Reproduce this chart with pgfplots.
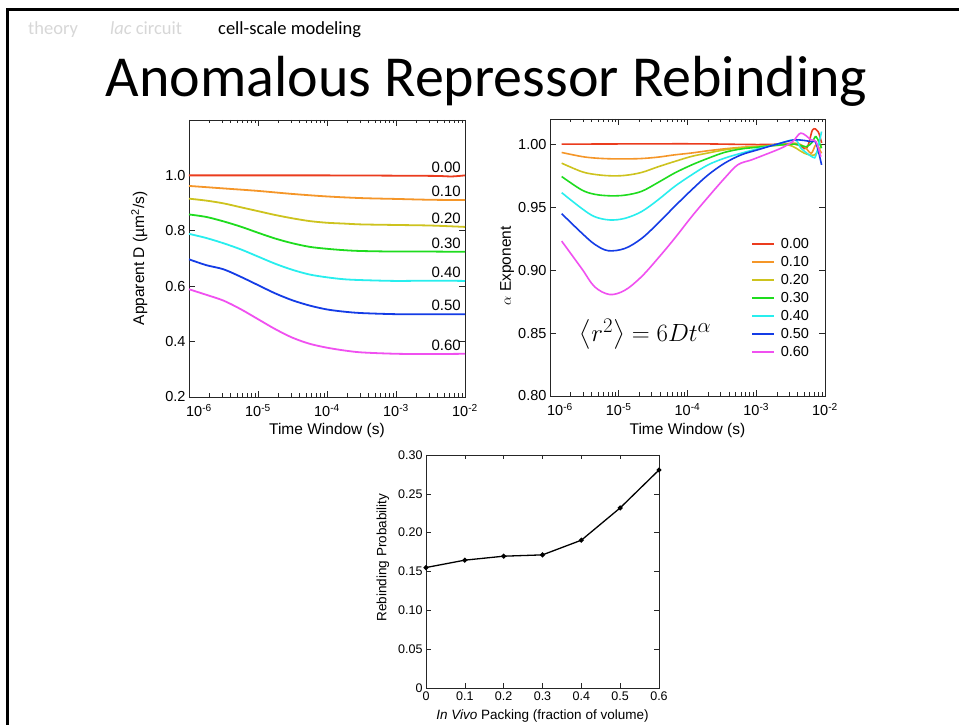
\documentclass[border=0pt]{standalone}
\usepackage{amsmath}
\usepackage{pgfplots}
\pgfplotsset{compat=1.18}
\usepackage{fontspec}
\setmainfont{Liberation Sans}
\newfontfamily\calibri{Carlito}

\definecolor{cR}{RGB}{235,60,30}
\definecolor{cO}{RGB}{245,150,40}
\definecolor{cY}{RGB}{205,195,30}
\definecolor{cG}{RGB}{30,220,30}
\definecolor{cC}{RGB}{40,238,238}
\definecolor{cB}{RGB}{20,60,230}
\definecolor{cM}{RGB}{240,80,240}
\definecolor{hdrgray}{RGB}{215,215,215}

\pgfplotsset{
  myaxis/.style={
    scale only axis,
    axis line style={black!85, line width=0.8pt},
    tick style={black!85, line width=0.6pt},
    major tick length=6pt, minor tick length=3.5pt,
    tick align=inside,
    /pgf/number format/assume math mode=true,
    tick label style={font=\fontsize{14.5}{14.5}\selectfont},
  },
  logxticks/.style={
    xmin=1e-6, xmax=1e-2,
    xtick={1e-6,1e-5,1e-4,1e-3,1e-2},
    xticklabels={\hspace{20pt}10\textsuperscript{-6},10\textsuperscript{-5},10\textsuperscript{-4},10\textsuperscript{-3},10\textsuperscript{-2}},
    xticklabel style={yshift=-3.5pt},
    minor xtick={2e-6,3e-6,4e-6,5e-6,6e-6,7e-6,8e-6,9e-6,
                 2e-5,3e-5,4e-5,5e-5,6e-5,7e-5,8e-5,9e-5,
                 2e-4,3e-4,4e-4,5e-4,6e-4,7e-4,8e-4,9e-4,
                 2e-3,3e-3,4e-3,5e-3,6e-3,7e-3,8e-3,9e-3},
  },
}

\begin{document}
\begin{tikzpicture}[x=1pt,y=1pt]
\useasboundingbox (0,0) rectangle (959,725);
\fill[white] (0,0) rectangle (959,725);
\draw[line width=3pt] (7.5,0) -- (7.5,715) -- (960,715);

\node[anchor=base west, inner sep=0pt, text=hdrgray] at (28,690) {\calibri\fontsize{18.5}{20}\selectfont theory};
\node[anchor=base west, inner sep=0pt, text=hdrgray] at (110,690) {\calibri\fontsize{18.5}{20}\selectfont \textit{lac} circuit};
\node[anchor=base west, inner sep=0pt, text=black] at (218,690) {\calibri\fontsize{18.5}{20}\selectfont cell-scale modeling};
\node[anchor=base, inner sep=0pt] at (486.5,628) {\calibri\fontsize{58}{60}\selectfont Anomalous Repressor Rebinding};

% ---------------- left plot ----------------
\begin{axis}[xmode=log, myaxis, logxticks,
  at={(189pt,328pt)}, anchor=south west,
  width=276pt, height=277pt,
  ymin=0.2, ymax=1.2,
  ytick={0.2,0.4,0.6,0.8,1.0},
  yticklabels={0.2,0.4,0.6,0.8,1.0},
  xlabel={Time Window (s)},
  ylabel={Apparent D (µm\textsuperscript{2}/s)},
  xlabel style={at={(axis description cs:0.5,-0.12)}, anchor=center, font=\fontsize{15.5}{16}\selectfont},
  ylabel style={at={(axis description cs:-0.18,0.5)}, anchor=center, font=\fontsize{15.5}{16}\selectfont},
  every axis plot/.append style={line width=1.8pt, smooth, tension=0.5},
]
\addplot[cR] coordinates {(1e-6,1.000)(1e-5,1.000)(1e-4,1.000)(1e-3,0.999)(4e-3,0.998)(6.3e-3,0.996)(1e-2,1.000)};
\addplot[cO] coordinates {(1e-6,0.962)(3.162e-6,0.953)(1e-5,0.944)(3.162e-5,0.933)(1e-4,0.924)(3.162e-4,0.918)(1e-3,0.915)(3.162e-3,0.912)(1e-2,0.911)};
\addplot[cY] coordinates {(1e-6,0.916)(1.778e-6,0.909)(3.162e-6,0.899)(5.623e-6,0.885)(1e-5,0.871)(1.778e-5,0.857)(3.162e-5,0.845)(5.623e-5,0.835)(1e-4,0.829)(1.778e-4,0.826)(3.162e-4,0.823)(1e-3,0.821)(3.162e-3,0.819)(1e-2,0.814)};
\addplot[cG] coordinates {(1e-6,0.859)(1.778e-6,0.850)(3.162e-6,0.834)(5.623e-6,0.815)(1e-5,0.793)(1.778e-5,0.772)(3.162e-5,0.755)(5.623e-5,0.742)(1e-4,0.735)(1.778e-4,0.730)(3.162e-4,0.727)(1e-3,0.725)(3.162e-3,0.725)(1e-2,0.724)};
\addplot[cC] coordinates {(1e-6,0.789)(1.778e-6,0.774)(3.162e-6,0.755)(5.623e-6,0.733)(1e-5,0.707)(1.778e-5,0.681)(3.162e-5,0.659)(5.623e-5,0.642)(1e-4,0.632)(1.778e-4,0.625)(3.162e-4,0.622)(1e-3,0.619)(3.162e-3,0.620)(1e-2,0.619)};
\addplot[cB] coordinates {(1e-6,0.697)(1.778e-6,0.676)(3.162e-6,0.661)(5.623e-6,0.634)(1e-5,0.604)(1.778e-5,0.574)(3.162e-5,0.549)(5.623e-5,0.530)(1e-4,0.516)(1.778e-4,0.508)(3.162e-4,0.503)(1e-3,0.499)(3.162e-3,0.499)(1e-2,0.499)};
\addplot[cM] coordinates {(1e-6,0.589)(1.778e-6,0.569)(3.162e-6,0.548)(5.623e-6,0.517)(1e-5,0.481)(1.778e-5,0.445)(3.162e-5,0.414)(5.623e-5,0.392)(1e-4,0.378)(1.778e-4,0.368)(3.162e-4,0.361)(1e-3,0.356)(3.162e-3,0.355)(1e-2,0.356)};
\begin{scope}[every node/.style={anchor=south east, inner sep=1pt, xshift=-3pt, yshift=2pt, font=\fontsize{15}{15}\selectfont}]
\node at (axis cs:1e-2,1.000) {0.00};
\node at (axis cs:1e-2,0.911) {0.10};
\node at (axis cs:1e-2,0.814) {0.20};
\node at (axis cs:1e-2,0.724) {0.30};
\node at (axis cs:1e-2,0.619) {0.40};
\node at (axis cs:1e-2,0.499) {0.50};
\node at (axis cs:1e-2,0.356) {0.60};
\end{scope}
\end{axis}

% ---------------- right plot ----------------
\begin{axis}[xmode=log, myaxis, logxticks,
  at={(550pt,329pt)}, anchor=south west,
  width=275pt, height=277pt,
  ymin=0.8, ymax=1.02,
  ytick={0.8,0.85,0.9,0.95,1.0},
  yticklabels={0.80,0.85,0.90,0.95,1.00},
  xlabel={Time Window (s)},
  ylabel={$\alpha$ Exponent},
  xlabel style={at={(axis description cs:0.5,-0.123)}, anchor=center, font=\fontsize{15.5}{16}\selectfont},
  ylabel style={at={(axis description cs:-0.156,0.47)}, anchor=center, font=\fontsize{15.5}{16}\selectfont},
  every axis plot/.append style={line width=1.6pt, smooth, tension=0.55},
  legend style={draw=none, fill=none, at={(axis description cs:0.731,0.577)}, anchor=north west,
     font=\fontsize{14.5}{14.5}\selectfont, row sep=2.3pt, inner sep=0pt,
     /tikz/every odd column/.append style={column sep=4pt}},
  legend cell align=left,
  legend image code/.code={\draw[#1, line width=1.6pt, sharp plot] (0pt,0pt) -- (22pt,0pt);},
]
\addplot[cR] coordinates {(1.479e-6,1.000)(1e-4,1.0003)(1e-3,0.9997)(3.631e-3,1.000)(5.370e-3,0.9968)(6.607e-3,1.0114)(7.943e-3,1.010)(8.913e-3,1.001)};
\addplot[cO] coordinates {(1.479e-6,0.9934)(2.884e-6,0.9902)(4.467e-6,0.989)(7.413e-6,0.9884)(1.230e-5,0.9883)(2.138e-5,0.9886)(3.715e-5,0.9897)(6.457e-5,0.9915)(1.148e-4,0.993)(1.995e-4,0.9948)(3.467e-4,0.9963)(6.026e-4,0.9975)(1.047e-3,0.9982)(1.862e-3,0.9993)(3.631e-3,1.0008)(5.012e-3,0.998)(6.310e-3,0.9928)(7.413e-3,0.9995)(8.913e-3,0.9928)};
\addplot[cY] coordinates {(1.479e-6,0.9849)(2.884e-6,0.9782)(4.467e-6,0.976)(7.413e-6,0.9749)(1.230e-5,0.9752)(2.138e-5,0.9775)(3.715e-5,0.982)(6.457e-5,0.9862)(1.148e-4,0.9903)(1.995e-4,0.993)(3.467e-4,0.9955)(6.026e-4,0.9972)(1.047e-3,0.9982)(1.862e-3,0.9989)(2.884e-3,0.9995)(3.802e-3,0.9968)(5.012e-3,0.9928)(7.079e-3,0.9915)(8.913e-3,0.9995)};
\addplot[cG] coordinates {(1.479e-6,0.9743)(2.884e-6,0.9637)(4.467e-6,0.9602)(7.413e-6,0.959)(1.230e-5,0.9595)(2.138e-5,0.9625)(3.715e-5,0.9695)(6.457e-5,0.977)(1.148e-4,0.9835)(1.995e-4,0.9888)(3.467e-4,0.9935)(6.026e-4,0.9962)(1.047e-3,0.9976)(1.862e-3,0.999)(3.631e-3,1.000)(5.370e-3,0.998)(6.607e-3,1.002)(7.413e-3,1.006)(8.913e-3,0.9968)};
\addplot[cC] coordinates {(1.479e-6,0.9615)(2.884e-6,0.949)(4.467e-6,0.9424)(7.413e-6,0.9398)(1.230e-5,0.9411)(2.138e-5,0.9464)(3.715e-5,0.9557)(6.457e-5,0.9663)(1.148e-4,0.9756)(1.995e-4,0.9836)(3.467e-4,0.9889)(6.026e-4,0.9928)(1.047e-3,0.9963)(1.862e-3,0.9995)(3.631e-3,1.0034)(4.467e-3,0.9968)(6.607e-3,0.9897)(7.413e-3,0.9915)(8.913e-3,1.010)};
\addplot[cB] coordinates {(1.479e-6,0.9448)(2.884e-6,0.9295)(4.467e-6,0.9205)(7.0e-6,0.9154)(1.230e-5,0.9172)(2.138e-5,0.925)(3.715e-5,0.9371)(6.457e-5,0.9504)(1.148e-4,0.9637)(1.995e-4,0.9756)(3.467e-4,0.9849)(6.026e-4,0.9915)(1.047e-3,0.9955)(1.862e-3,0.9995)(3.631e-3,1.0034)(6.310e-3,1.002)(7.413e-3,1.0008)(8.913e-3,0.9836)};
\addplot[cM] coordinates {(1.479e-6,0.923)(2.884e-6,0.9013)(4.467e-6,0.8867)(7.413e-6,0.8806)(1.230e-5,0.884)(2.138e-5,0.8947)(3.715e-5,0.9093)(6.457e-5,0.925)(1.148e-4,0.9424)(1.995e-4,0.958)(3.467e-4,0.973)(5.370e-4,0.9836)(8.511e-4,0.9875)(1.318e-3,0.9915)(2.291e-3,0.9968)(3.388e-3,1.002)(4.467e-3,1.0088)(6.310e-3,1.0034)(7.413e-3,1.002)(8.710e-3,0.990)};
\legend{0.00,0.10,0.20,0.30,0.40,0.50,0.60}
\node at (axis cs:2.45e-5,0.849) {\fontsize{28}{28}\selectfont $\bigl\langle r^{2} \bigr\rangle = 6Dt^{\alpha}$};
\end{axis}

% ---------------- bottom plot ----------------
\begin{axis}[myaxis,
  at={(426pt,37pt)}, anchor=south west,
  width=233pt, height=233pt,
  xmin=0, xmax=0.6, ymin=0, ymax=0.3,
  xtick={0,0.1,0.2,0.3,0.4,0.5,0.6},
  xticklabels={0,0.1,0.2,0.3,0.4,0.5,0.6},
  ytick={0,0.05,0.1,0.15,0.2,0.25,0.3},
  yticklabels={0,0.05,0.10,0.15,0.20,0.25,0.30},
  major tick length=4.5pt,
  tick label style={font=\fontsize{12.5}{12.5}\selectfont},
  xlabel={\textit{In Vivo} Packing (fraction of volume)},
  ylabel={Rebinding Probability},
  xlabel style={at={(axis description cs:0.5,-0.12)}, anchor=center, font=\fontsize{13.5}{14}\selectfont},
  ylabel style={at={(axis description cs:-0.185,0.56)}, anchor=center, font=\fontsize{13.5}{14}\selectfont},
]
\addplot[black, line width=1.3pt, mark=*, mark size=1.8pt] coordinates {(0,0.1551)(0.1,0.1646)(0.2,0.1697)(0.3,0.1714)(0.4,0.1903)(0.5,0.2319)(0.6,0.2807)};
\end{axis}
\end{tikzpicture}
\end{document}
